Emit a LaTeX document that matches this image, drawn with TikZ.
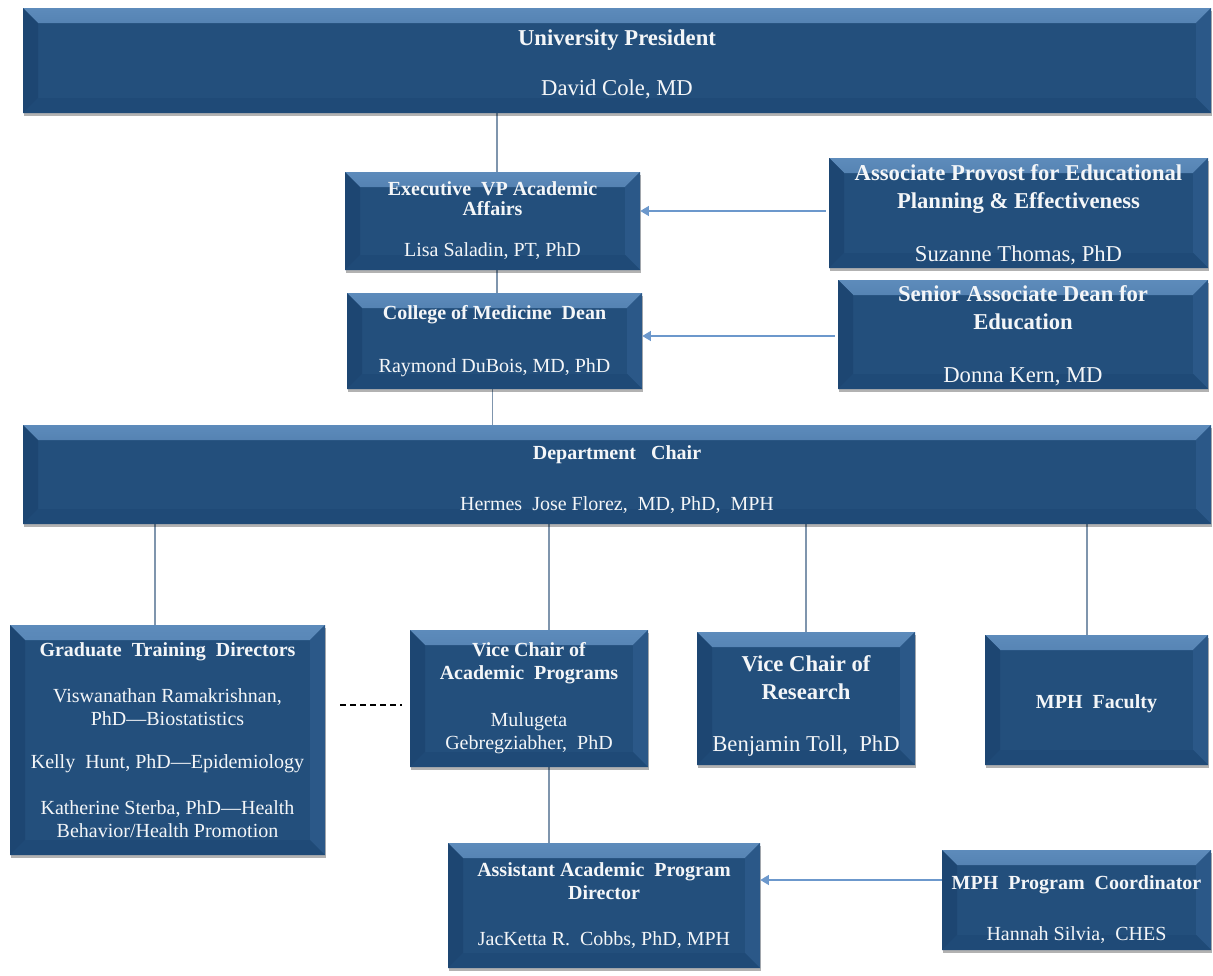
\documentclass[tikz,border=0pt]{standalone}
\usepackage{fontspec}
\setmainfont{Liberation Serif}
\usetikzlibrary{shadows,arrows.meta,calc,backgrounds}
\definecolor{boxmain}{HTML}{234F7C}
\definecolor{boxlight}{HTML}{5D8BBB}
\definecolor{boxtopend}{HTML}{285584}
\definecolor{boxdark}{HTML}{1D4672}
\definecolor{boxright}{HTML}{2B5888}
\definecolor{boxbottom}{HTML}{1F4A77}
\definecolor{linegray}{HTML}{7F95AD}
\definecolor{arrowblue}{HTML}{6C98CC}
\definecolor{txt}{HTML}{F4F6F8}
\newcommand\bevw{15}
\tikzset{
  orgbox/.style={rectangle, fill=boxmain, text=txt, align=center, inner sep=0pt,
    font=\fontsize{15}{17.25}\selectfont,
    drop shadow={shadow xshift=0.8pt, shadow yshift=-2.2pt, opacity=0.3, fill=black},
    path picture={
      \shade[top color=boxlight, bottom color=boxtopend]
        (path picture bounding box.north west) -- (path picture bounding box.north east)
        -- ([shift={(-\bevw,\bevw)}]path picture bounding box.north east)
        -- ([shift={(\bevw,\bevw)}]path picture bounding box.north west) -- cycle;
      \fill[boxdark]
        (path picture bounding box.north west) -- ([shift={(\bevw,\bevw)}]path picture bounding box.north west)
        -- ([shift={(\bevw,-\bevw)}]path picture bounding box.south west)
        -- (path picture bounding box.south west) -- cycle;
      \fill[boxright]
        (path picture bounding box.north east) -- ([shift={(-\bevw,\bevw)}]path picture bounding box.north east)
        -- ([shift={(-\bevw,-\bevw)}]path picture bounding box.south east)
        -- (path picture bounding box.south east) -- cycle;
      \fill[boxbottom]
        (path picture bounding box.south west) -- ([shift={(\bevw,-\bevw)}]path picture bounding box.south west)
        -- ([shift={(-\bevw,-\bevw)}]path picture bounding box.south east)
        -- (path picture bounding box.south east) -- cycle;
    }},
  bigtext/.style={font=\fontsize{17}{21}\selectfont},
  conn/.style={draw=linegray, line width=1pt},
  arr/.style={draw=arrowblue, line width=1.1pt, -{Triangle[width=7.5pt,length=6.5pt]}},
  dashline/.style={draw=black, line width=1.6pt, dash pattern=on 4.5pt off 3pt},
}
\begin{document}
\begin{tikzpicture}[x=0.75pt,y=-0.75pt]
\useasboundingbox (0,0) rectangle (1213,975);

\node[orgbox, bigtext, minimum width=891pt, minimum height=78.75pt] (pres) at (617,60.5)
  {\rule{0pt}{17.6pt}\bfseries University President\\[17pt] David Cole, MD};
\node[orgbox, font=\fontsize{15}{15}\selectfont, minimum width=221.25pt, minimum height=73.5pt] (execvp) at (492.5,221)
  {\bfseries Executive\ \ VP Academic\\ \bfseries Affairs\\[15.75pt] Lisa Saladin, PT, PhD};
\node[orgbox, bigtext, minimum width=284.25pt, minimum height=82.5pt] (assocprov) at (1018.5,213)
  {\rule{0pt}{15pt}\bfseries Associate Provost for Educational\\ \bfseries Planning \& Effectiveness\\[18.75pt] Suzanne Thomas, PhD};
\node[orgbox, minimum width=221.25pt, minimum height=72pt] (com) at (494.5,341)
  {\bfseries College of Medicine\ \ Dean\\[22pt] Raymond DuBois, MD, PhD};
\node[orgbox, bigtext, minimum width=277.5pt, minimum height=81.75pt] (sad) at (1023,334.5)
  {\rule{0pt}{14.5pt}\bfseries Senior Associate Dean for\\ \bfseries Education\\[18.75pt] Donna Kern, MD};
\node[orgbox, minimum width=891pt, minimum height=74.25pt] (dept) at (617,474.5)
  {\rule{0pt}{17.7pt}\bfseries Department\ \ \ Chair\\[21pt] Hermes\ \ Jose Florez,\ \ MD, PhD,\ \ MPH};
\node[orgbox, minimum width=236.25pt, minimum height=172.5pt] (gtd) at (167.5,740)
  {\bfseries Graduate\ \ Training\ \ Directors\\[17.25pt]
   Viswanathan Ramakrishnan,\\ PhD---Biostatistics\\[15pt]
   Kelly\ \ Hunt, PhD---Epidemiology\\[17.25pt]
   Katherine Sterba, PhD---Health\\ Behavior/Health Promotion};
\node[orgbox, minimum width=178.5pt, minimum height=102.75pt] (vca) at (529,698.5)
  {\bfseries Vice Chair of\\ \bfseries Academic\ \ Programs\\[18pt] Mulugeta\\ Gebregziabher,\ \ PhD};
\node[orgbox, bigtext, minimum width=163.5pt, minimum height=99.75pt] (vcr) at (806,698.5)
  {\rule{0pt}{23.6pt}\bfseries Vice Chair of\\ \bfseries Research\\[18pt] Benjamin Toll,\ \ PhD};
\node[orgbox, minimum width=167.25pt, minimum height=97.5pt] (mphf) at (1096.5,700)
  {\rule{0pt}{16.2pt}\bfseries MPH\ \ Faculty};
\node[orgbox, minimum width=234pt, minimum height=93.75pt] (aapd) at (604,905.5)
  {\bfseries Assistant Academic\ \ Program\\ \bfseries Director\\[17pt] JacKetta R.\ \ Cobbs, PhD, MPH};
\node[orgbox, minimum width=201.75pt, minimum height=75pt] (mphc) at (1076.5,900)
  {\rule{0pt}{25.2pt}\bfseries MPH\ \ Program\ \ Coordinator\\[21pt] Hannah Silvia,\ \ CHES};

\coordinate (c1) at ($(execvp.north)+(4.5,0)$);
\coordinate (c2) at ($(execvp.south)+(4.5,0)$);
\coordinate (c3) at ($(com.south)+(-2,0)$);
\coordinate (g1) at ($(gtd.north)+(-12.5,0)$);
\coordinate (g2) at ($(vca.north)+(20,0)$);
\coordinate (g3) at (vcr.north);
\coordinate (g4) at ($(mphf.north)+(-9.5,0)$);
\coordinate (g5) at ($(vca.south)+(20,0)$);
\coordinate (a1) at ($(assocprov.west)+(-3,-2)$);
\coordinate (a2) at ($(sad.west)+(-3,1.5)$);
\coordinate (a3) at ($(mphc.west)+(0,-20)$);
\coordinate (d1) at ($(gtd.east)+(15,-35)$);
\coordinate (d2) at ($(vca.west)+(-8,0)$);

\begin{scope}[on background layer]
\fill[white] (0,0) rectangle (1213,975);
\draw[conn] (c1) -- (c1 |- pres.south);
\draw[conn] (c2) -- (c2 |- com.north);
\draw[conn] (c3) -- (c3 |- dept.north);
\draw[conn] (g1 |- dept.south) -- (g1);
\draw[conn] (g2 |- dept.south) -- (g2);
\draw[conn] (g3 |- dept.south) -- (g3);
\draw[conn] (g4 |- dept.south) -- (g4);
\draw[conn] (g5) -- (g5 |- aapd.north);
\end{scope}
\draw[arr] (a1) -- (a1 -| execvp.east);
\draw[arr] (a2) -- (a2 -| com.east);
\draw[arr] (a3) -- (a3 -| aapd.east);
\draw[dashline] (d1) -- (d1 -| d2);
\end{tikzpicture}
\end{document}
